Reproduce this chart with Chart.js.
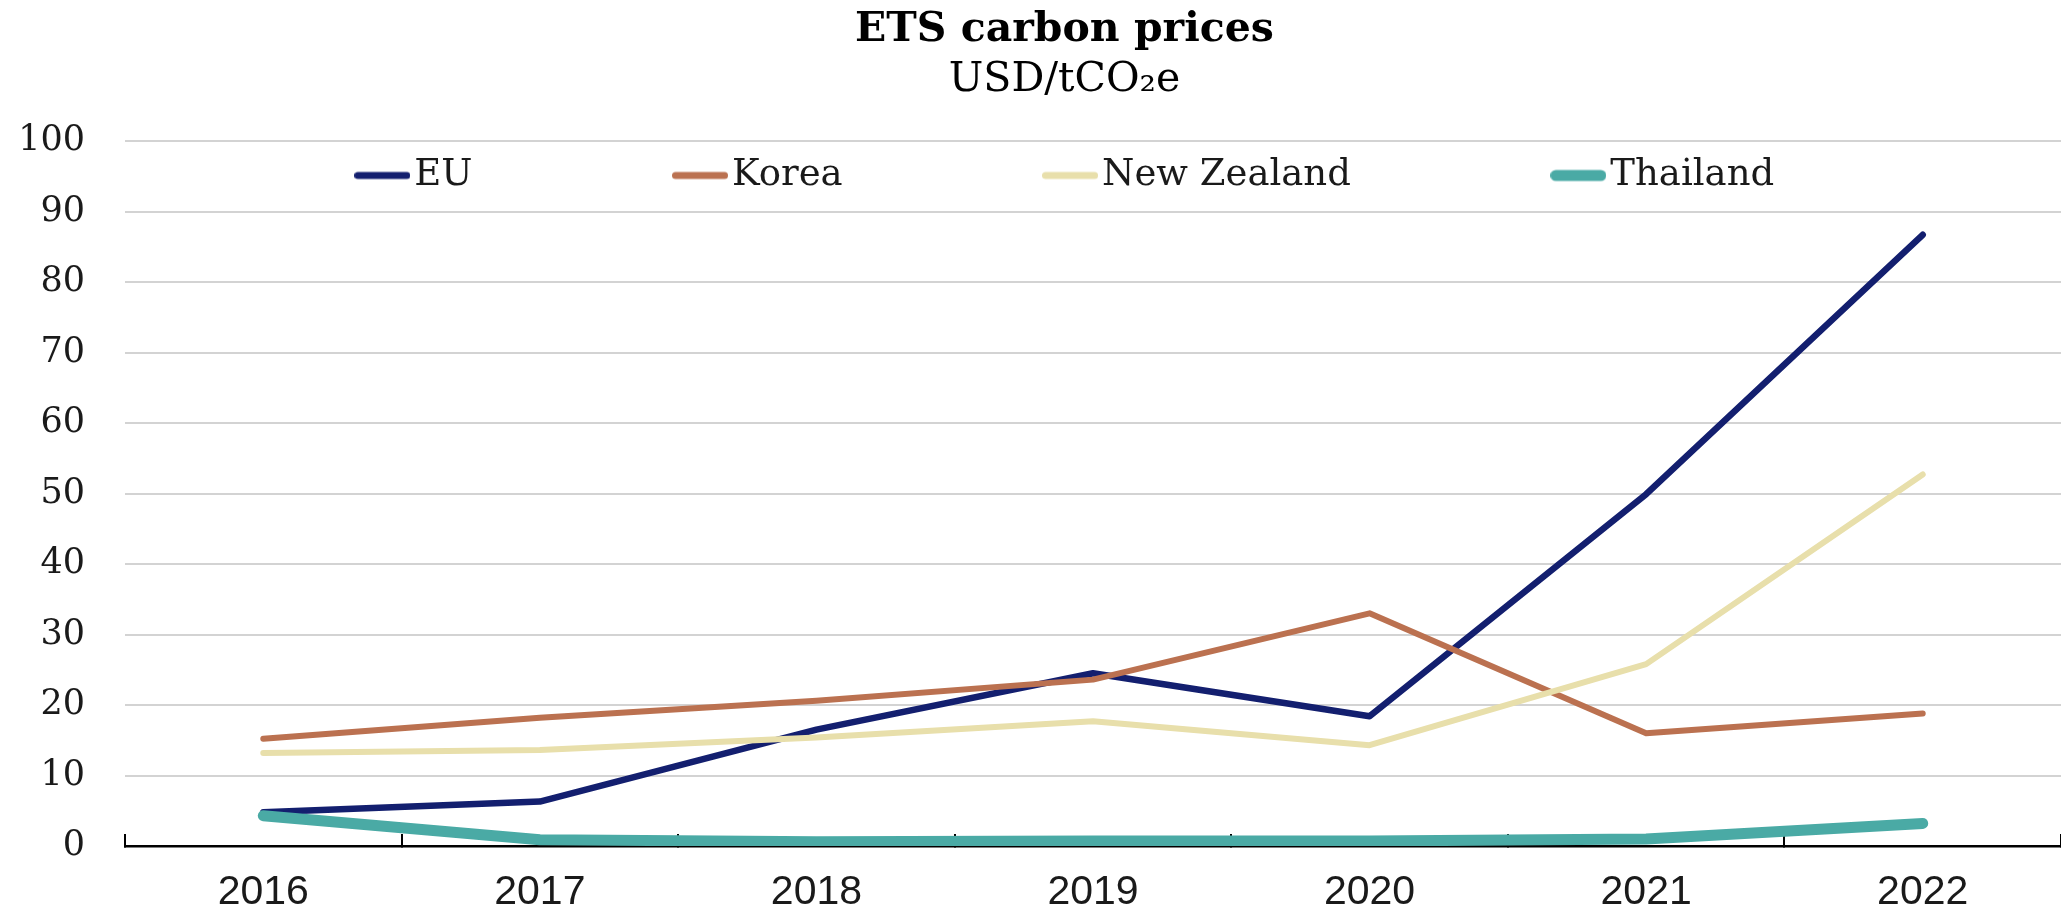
<!DOCTYPE html>
<html>
<head>
<meta charset="utf-8">
<title>ETS carbon prices</title>
<script src="https://cdn.jsdelivr.net/npm/chart.js@4.4.1/dist/chart.umd.min.js"></script>
<style>
  html, body { margin: 0; padding: 0; background: #fff; }
  canvas { display: block; }
</style>
</head>
<body>
<canvas id="etsChart" width="2061" height="907"></canvas>
<script>
const years = ['2016', '2017', '2018', '2019', '2020', '2021', '2022'];
const euPrices = [4.8, 6.3, 16.5, 24.5, 18.4, 49.9, 86.7];
const koreaPrices = [15.2, 18.2, 20.6, 23.6, 33.0, 16.0, 18.8];
const nzPrices = [13.2, 13.6, 15.4, 17.7, 14.3, 25.8, 52.7];
const thailandPrices = [4.3, 0.9, 0.6, 0.7, 0.7, 1.0, 3.2];

const serif = '"DejaVu Serif", serif';
const sans = '"Liberation Sans", Arial, sans-serif';

// short rounded line used as legend marker
function legendMark(color, width) {
    const c = document.createElement('canvas');
    c.width = 56;
    c.height = 14;
    const g = c.getContext('2d');
    g.strokeStyle = color;
    g.lineWidth = width;
    g.lineCap = 'round';
    g.beginPath();
    g.moveTo(width / 2, 7);
    g.lineTo(56 - width / 2, 7);
    g.stroke();
    return c;
}

const series = [
    { label: 'EU', data: euPrices, color: '#131f6f', width: 6.5, mark: 7, order: 4 },
    { label: 'Korea', data: koreaPrices, color: '#bb7150', width: 6, mark: 7, order: 3 },
    { label: 'New Zealand', data: nzPrices, color: '#e8dfab', width: 6, mark: 7, order: 2 },
    { label: 'Thailand', data: thailandPrices, color: '#4aaaa5', width: 11, mark: 11, order: 1 }
];
const marks = series.map(s => legendMark(s.color, s.mark));

// move title and legend so they sit where the original has them
const placeBoxes = {
    id: 'placeBoxes',
    afterLayout(chart) {
        chart.boxes.forEach(b => {
            if (b.position === 'top' && b !== chart.legend) {
                b.left += 34;
                b.right += 34;
            }
        });
        const lg = chart.legend;
        const pad = lg.options.labels.padding;
        lg.left += 41;
        lg.right += 41;
        lg.top = chart.chartArea.top + 16 - pad;
        lg.bottom = chart.chartArea.top + 80;
    }
};

const ctx = document.getElementById('etsChart').getContext('2d');
new Chart(ctx, {
    type: 'line',
    data: {
        labels: years,
        datasets: series.map(s => ({
            label: s.label,
            data: s.data,
            borderColor: s.color,
            backgroundColor: s.color,
            borderWidth: s.width,
            borderCapStyle: 'round',
            borderJoinStyle: 'round',
            pointRadius: 0,
            tension: 0,
            order: s.order
        }))
    },
    options: {
        responsive: false,
        animation: false,
        devicePixelRatio: 1,
        layout: { padding: 0 },
        plugins: {
            title: {
                display: true,
                text: 'ETS carbon prices',
                color: '#000',
                font: { family: serif, size: 41, weight: 'bold', lineHeight: 1 },
                padding: { top: 10, bottom: 0 }
            },
            subtitle: {
                display: true,
                text: 'USD/tCO₂e',
                color: '#000',
                font: { family: serif, size: 41, lineHeight: 1 },
                padding: { top: 9, bottom: 39 }
            },
            legend: {
                position: 'top',
                maxHeight: 1,
                labels: {
                    usePointStyle: true,
                    pointStyleWidth: 27,
                    padding: 214,
                    color: '#1a1a1a',
                    font: { family: serif, size: 37 },
                    sort: (a, b) => a.datasetIndex - b.datasetIndex,
                    generateLabels(chart) {
                        const items = Chart.defaults.plugins.legend.labels.generateLabels(chart);
                        items.forEach(it => { it.pointStyle = marks[it.datasetIndex]; });
                        return items;
                    }
                }
            },
            tooltip: { enabled: false }
        },
        scales: {
            x: {
                offset: true,
                afterFit(scale) { scale.height = 59; },
                border: { display: true, color: '#000', width: 2.5 },
                grid: {
                    offset: true,
                    drawOnChartArea: false,
                    drawTicks: true,
                    tickLength: -12,
                    color: '#000',
                    lineWidth: 2
                },
                ticks: {
                    color: '#1a1a1a',
                    padding: 38,
                    font: { family: sans, size: 41, lineHeight: 1 }
                }
            },
            y: {
                min: 0,
                max: 100,
                afterFit(scale) { scale.width = 125; },
                border: { display: false },
                grid: {
                    color: '#d3d3d3',
                    lineWidth: 2,
                    drawTicks: false
                },
                ticks: {
                    stepSize: 10,
                    padding: 40,
                    color: '#1a1a1a',
                    font: { family: serif, size: 35 }
                }
            }
        }
    },
    plugins: [placeBoxes]
});
</script>
</body>
</html>
